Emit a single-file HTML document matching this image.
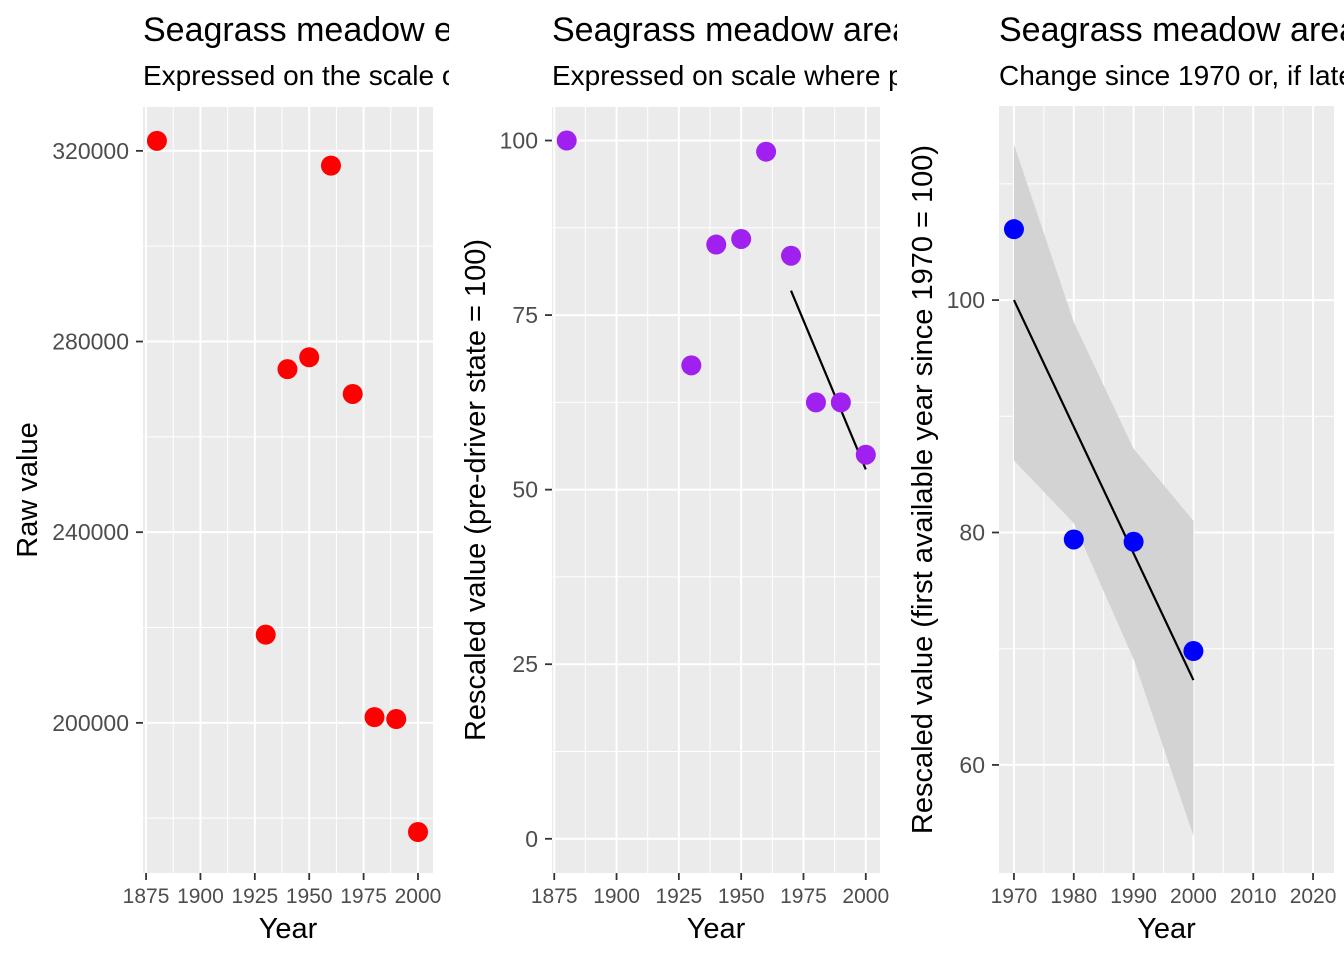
<!DOCTYPE html>
<html><head><meta charset="utf-8"><style>
body{margin:0;background:#fff;}
svg{display:block;font-family:"Liberation Sans",sans-serif;}
</style></head><body>
<svg id="c" width="1344" height="960">
<defs>
<clipPath id="cl1"><rect x="0" y="0" width="449" height="100"/></clipPath>
<clipPath id="cl2"><rect x="449" y="0" width="448" height="100"/></clipPath>
<clipPath id="cl3"><rect x="897" y="0" width="447" height="100"/></clipPath>
</defs>
<g clip-path="url(#cl1)"><text x="143" y="41" font-size="34" fill="#000">Seagrass meadow extent</text>
<text x="143" y="85" font-size="28" fill="#000">Expressed on the scale of the raw data</text></g>
<g clip-path="url(#cl2)"><text x="552" y="41" font-size="34" fill="#000">Seagrass meadow area</text>
<text x="552" y="85" font-size="28" fill="#000">Expressed on scale where pre-driver state = 100</text></g>
<g clip-path="url(#cl3)"><text x="999" y="41" font-size="34" fill="#000">Seagrass meadow area</text>
<text x="999" y="85" font-size="28" fill="#000">Change since 1970 or, if later, first available year</text></g>
</svg>
<script>
// Panel 1 data
const p1Years=[1880,1930,1940,1950,1960,1970,1980,1990,2000];
const p1Values=[322100,218500,274200,276700,316900,269000,201200,200800,177100];
const p1YTicks=[200000,240000,280000,320000];
const p1XTicks=[1875,1900,1925,1950,1975,2000];
// Panel 2 data
const p2Years=[1880,1930,1940,1950,1960,1970,1980,1990,2000];
const p2Values=[100,67.8,85.1,85.9,98.4,83.5,62.5,62.5,55.0];
const p2YTicks=[0,25,50,75,100];
const p2XTicks=[1875,1900,1925,1950,1975,2000];
const p2TrendYears=[1970,2000];
const p2TrendValues=[78.5,52.9];
// Panel 3 data
const p3Years=[1970,1980,1990,2000];
const p3Values=[106.1,79.4,79.2,69.8];
const p3YTicks=[60,80,100];
const p3XTicks=[1970,1980,1990,2000,2010,2020];
const p3TrendYears=[1970,2000];
const p3TrendValues=[100,67.3];
const p3RibbonYears=[1970,1980,1990,2000];
const p3RibbonUpper=[113.4,98.1,87.2,81.0];
const p3RibbonLower=[86.2,80.8,69.1,53.9];

const svg=document.getElementById('c');
const NS='http://www.w3.org/2000/svg';
function mk(tag,attrs,parent){const e=document.createElementNS(NS,tag);for(const k in attrs)e.setAttribute(k,attrs[k]);(parent||svg).appendChild(e);return e;}

function panel(o){
  const {id,L,R,T,B,xmin,xmax,ymin,ymax}=o;
  const sx=v=>L+(v-xmin)/(xmax-xmin)*(R-L);
  const sy=v=>B-(v-ymin)/(ymax-ymin)*(B-T);
  const g=mk('g',{});
  
  
  const bg=mk('rect',{x:L,y:T,width:R-L,height:B-T,fill:'#ebebeb'},g);
  
  
  const yt=o.yTicks, xt=o.xTicks, ys=yt[1]-yt[0], xs=xt[1]-xt[0];
  for(let v=yt[0]-ys; v<=yt[yt.length-1]+ys; v+=ys/2){ if(v<ymin||v>ymax)continue;
    const minor=Math.abs(((v-yt[0])/ys)%1)>0.01;
    const l=mk('line',{x1:L,x2:R,y1:sy(v),y2:sy(v),stroke:'#fff','stroke-width':minor?1:2},g);
    
    }
  for(let v=xt[0]-xs; v<=xt[xt.length-1]+xs; v+=xs/2){ if(v<xmin||v>xmax)continue;
    const minor=Math.abs(((v-xt[0])/xs)%1)>0.01;
    const l=mk('line',{y1:T,y2:B,x1:sx(v),x2:sx(v),stroke:'#fff','stroke-width':minor?1:2},g);
    
    }
  yt.forEach(v=>{
    const t=mk('line',{x1:L-7,x2:L,y1:sy(v),y2:sy(v),stroke:'#333','stroke-width':1.8},g);
    
    
    const tx=mk('text',{x:L-14,y:sy(v)+8,'text-anchor':'end','font-size':23,fill:'#4d4d4d'},g);
    tx.textContent=v;
    
    
  });
  xt.forEach(v=>{
    const t=mk('line',{x1:sx(v),x2:sx(v),y1:B,y2:B+7,stroke:'#333','stroke-width':1.8},g);
    
    
    const tx=mk('text',{x:sx(v),y:B+30,'text-anchor':'middle','font-size':21,fill:'#4d4d4d'},g);
    tx.textContent=v;
    
    
  });
  const xl=mk('text',{x:(L+R)/2,y:938,'text-anchor':'middle','font-size':29,fill:'#000'},g);
  xl.textContent='Year';
  
  
  const yl=mk('text',{x:0,y:0,'text-anchor':'middle','font-size':29,fill:'#000',transform:`translate(${o.ylx},${(T+B)/2}) rotate(-90)`},g);
  yl.textContent=o.ylabel;
  
  
  if(o.rib){
    let d='';
    o.rib.years.forEach((y,i)=>d+=(i?'L':'M')+sx(y)+','+sy(o.rib.up[i]));
    for(let i=o.rib.years.length-1;i>=0;i--)d+='L'+sx(o.rib.years[i])+','+sy(o.rib.lo[i]);
    const p=mk('path',{d:d+'Z',fill:'#d3d3d3'},g);
    
    
  }
  if(o.trend){
    const l=mk('line',{x1:sx(o.trend.x[0]),y1:sy(o.trend.y[0]),x2:sx(o.trend.x[1]),y2:sy(o.trend.y[1]),stroke:'#000','stroke-width':2.2},g);
    
    
  }
  o.xs.forEach((x,i)=>{
    const c=mk('circle',{cx:sx(x),cy:sy(o.ys[i]),r:10,fill:o.color},g);
    
    
  });
}
panel({id:'panel1',L:143,R:433,T:107,B:873,xmin:1873.6,xmax:2006.9,ymin:168500,ymax:329200,
  xTicks:p1XTicks,yTicks:p1YTicks,xs:p1Years,ys:p1Values,color:'#ff0000',ylabel:'Raw value',ylx:37});
panel({id:'panel2',L:552,R:880,T:107,B:873,xmin:1874.1,xmax:2005.7,ymin:-4.9,ymax:104.8,
  xTicks:p2XTicks,yTicks:p2YTicks,xs:p2Years,ys:p2Values,color:'#a020f0',ylabel:'Rescaled value (pre-driver state = 100)',ylx:485,
  trend:{x:p2TrendYears,y:p2TrendValues}});
panel({id:'panel3',L:999,R:1334,T:106,B:873,xmin:1967.5,xmax:2023.5,ymin:50.7,ymax:116.7,
  xTicks:p3XTicks,yTicks:p3YTicks,xs:p3Years,ys:p3Values,color:'#0000ff',ylabel:'Rescaled value (first available year since 1970 = 100)',ylx:932,
  trend:{x:p3TrendYears,y:p3TrendValues},rib:{years:p3RibbonYears,up:p3RibbonUpper,lo:p3RibbonLower}});
</script>
</body></html>
